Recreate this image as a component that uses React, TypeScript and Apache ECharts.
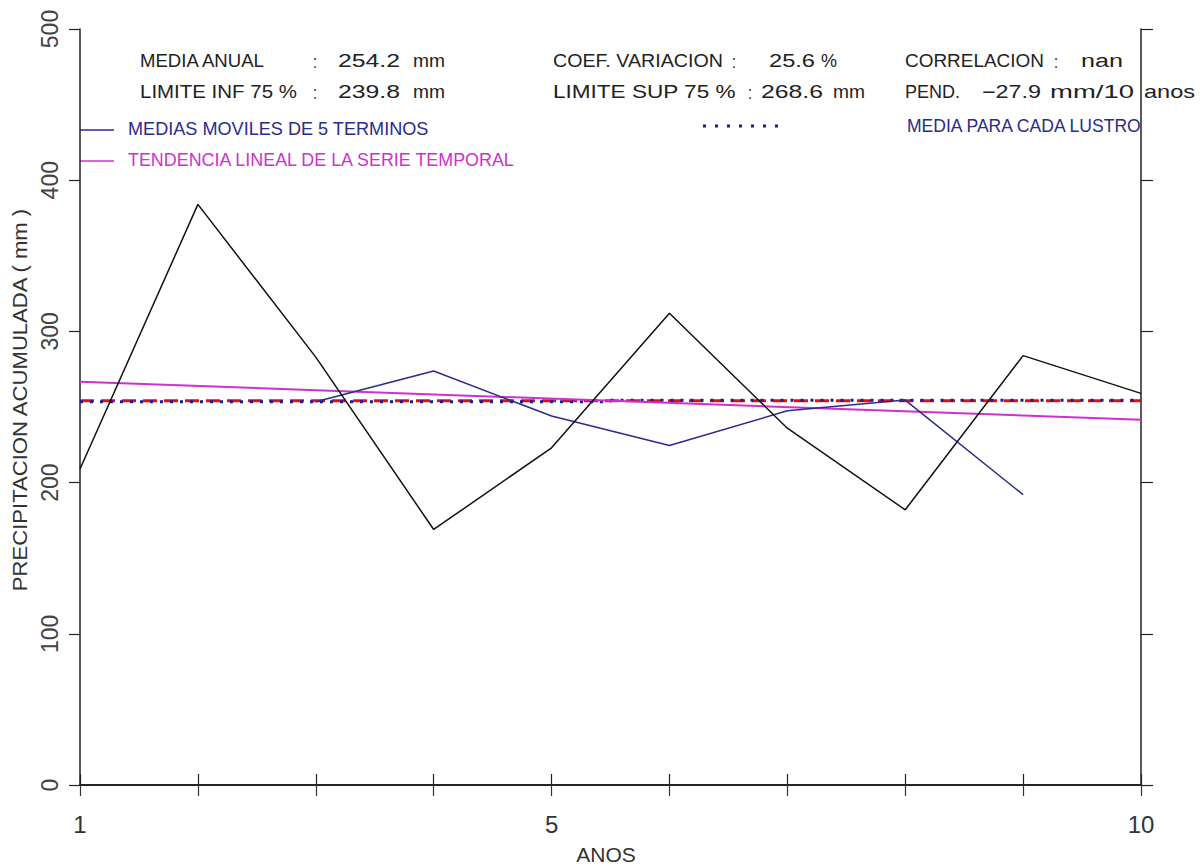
import React, { useEffect, useRef } from "react";
import * as echarts from "echarts";

const years = [1, 2, 3, 4, 5, 6, 7, 8, 9, 10];
const annual = [209, 384, 283, 169, 223, 312, 236, 182, 284, 259];
const movYears = [3, 4, 5, 6, 7, 8, 9];
const movAvg = [253.5, 273.8, 244, 224.5, 247.5, 254.6, 192];
const trendYears = [1, 10];
const trendValues = [266.7, 241.6];
const meanValue = 254.2;
const lustroYears = [[1, 5.5], [5.5, 10]];
const lustroValues = [253.4, 254.4];
const xTickLabels = ["1", "5", "10"];
const yTicks = [0, 100, 200, 300, 400, 500];

const FONT = "'Liberation Sans', Arial, sans-serif";
const NAVY = "#2b2b8c";
const MAGENTA = "#d030d0";

// [text, x start, x end, y]
const statPieces: [string, number, number, number][] = [
  ["MEDIA ANUAL", 140, 266, 61],
  [":", 313, 317, 61],
  ["254.2", 338, 400, 61],
  ["mm", 413, 445, 61],
  ["LIMITE INF 75 %", 140, 297, 92],
  [":", 313, 317, 92],
  ["239.8", 338, 400, 92],
  ["mm", 413, 445, 92],
  ["COEF. VARIACION", 553, 723, 61],
  [":", 732, 736, 61],
  ["25.6", 769, 815, 61],
  ["%", 821, 837, 61],
  ["LIMITE SUP 75 %", 553, 736, 92],
  [":", 748, 752, 92],
  ["268.6", 761, 823, 92],
  ["mm", 833, 865, 92],
  ["CORRELACION", 905, 1044, 61],
  [":", 1054, 1058, 61],
  ["nan", 1081, 1123, 61],
  ["PEND.", 905, 960, 92],
  ["\u221227.9", 982, 1041, 92],
  ["mm/10", 1050, 1134, 92],
  ["anos", 1144, 1195, 92],
];

export default function App() {
  const ref = useRef<HTMLDivElement>(null);
  useEffect(() => {
    if (!ref.current) return;
    const chart = echarts.init(ref.current, undefined, { renderer: "svg" });
    const ctx = document.createElement("canvas").getContext("2d") as CanvasRenderingContext2D;
    const measure = (t: string, size: number) => {
      ctx.font = `${size}px "Liberation Sans"`;
      return ctx.measureText(t).width || 1;
    };
    const stretched = (x1: number, x2: number, y: number, text: string, fill = "#222", size = 18) => ({
      type: "text",
      x: x1,
      y,
      scaleX: Math.max(0.6, Math.min(1.8, (x2 - x1) / measure(text, size))),
      silent: true,
      style: { text, fill, fontSize: size, fontFamily: FONT, align: "left", verticalAlign: "middle" },
    });
    const txt = (x: number, y: number, text: string, fill = "#222", size = 18, align = "left") => ({
      type: "text",
      x,
      y,
      silent: true,
      style: { text, fill, fontSize: size, fontFamily: FONT, align, verticalAlign: "middle" },
    });
    const yName = "PRECIPITACION ACUMULADA ( mm )";
    const option: any = {
      animation: false,
      backgroundColor: "#fff",
      grid: { left: 80, right: 59, top: 29, bottom: 81 },
      xAxis: [
        {
          type: "value",
          min: 1,
          max: 10,
          interval: 1,
          position: "bottom",
          axisLine: { lineStyle: { color: "#333", width: 2 } },
          axisTick: { inside: false, length: 11, lineStyle: { color: "#333", width: 1.2 } },
          splitLine: { show: false },
          axisLabel: {
            showMinLabel: true,
            showMaxLabel: true,
            margin: 27,
            fontSize: 24,
            fontFamily: FONT,
            color: "#333",
            formatter: (v: number) => (xTickLabels.includes(String(v)) ? String(v) : ""),
          },
        },
        {
          type: "value",
          min: 1,
          max: 10,
          interval: 1,
          position: "top",
          axisLine: { lineStyle: { color: "#222", width: 1.5 } },
          axisTick: { inside: false, length: 11, lineStyle: { color: "#222", width: 1.2 } },
          splitLine: { show: false },
          axisLabel: { show: false },
        },
      ],
      yAxis: [
        {
          type: "value",
          min: yTicks[0],
          max: yTicks[yTicks.length - 1],
          interval: 100,
          position: "left",
          axisLine: { show: true, lineStyle: { color: "#222", width: 1.5 } },
          axisTick: { show: true, inside: false, length: 11, lineStyle: { color: "#222", width: 1.2 } },
          splitLine: { show: false },
          axisLabel: {
            rotate: 90,
            margin: 19,
            fontSize: 23,
            fontFamily: FONT,
            color: "#444",
            showMinLabel: true,
            showMaxLabel: true,
          },
        },
        {
          type: "value",
          min: yTicks[0],
          max: yTicks[yTicks.length - 1],
          interval: 100,
          position: "right",
          axisLine: { show: true, lineStyle: { color: "#222", width: 1.5 } },
          axisTick: { show: true, inside: false, length: 12, lineStyle: { color: "#222", width: 1.2 } },
          splitLine: { show: false },
          axisLabel: { show: false },
        },
      ],
      series: [
        {
          name: "mean",
          type: "line",
          symbol: "none",
          data: [[years[0], meanValue], [years[years.length - 1], meanValue]],
          lineStyle: { color: "#e01010", width: 3, type: [14, 7] },
          z: 2,
        },
        ...lustroYears.map((ys, i) => ({
          name: "lustro" + i,
          type: "line",
          symbol: "none",
          data: ys.map((y) => [y, lustroValues[i]]),
          lineStyle: { color: "#1a1a9a", width: 3, type: [3, 7] },
          z: 3,
        })),
        {
          name: "trend",
          type: "line",
          symbol: "none",
          data: trendYears.map((y, i) => [y, trendValues[i]]),
          lineStyle: { color: MAGENTA, width: 2 },
          z: 4,
        },
        {
          name: "movavg",
          type: "line",
          symbol: "none",
          data: movYears.map((y, i) => [y, movAvg[i]]),
          lineStyle: { color: NAVY, width: 1.5 },
          z: 5,
        },
        {
          name: "annual",
          type: "line",
          symbol: "none",
          data: years.map((y, i) => [y, annual[i]]),
          lineStyle: { color: "#111", width: 1.5 },
          z: 6,
        },
      ],
      graphic: [
        ...statPieces.map(([t, x1, x2, y]) => stretched(x1, x2, y, t)),
        {
          type: "line",
          silent: true,
          shape: { x1: 80, y1: 130, x2: 114, y2: 130 },
          style: { stroke: NAVY, lineWidth: 1.5 },
        },
        stretched(128, 429, 129, "MEDIAS MOVILES DE 5 TERMINOS", NAVY),
        {
          type: "line",
          silent: true,
          shape: { x1: 80, y1: 161, x2: 114, y2: 161 },
          style: { stroke: MAGENTA, lineWidth: 1.5 },
        },
        stretched(128, 517, 160, "TENDENCIA LINEAL DE LA SERIE TEMPORAL", MAGENTA),
        {
          type: "line",
          silent: true,
          shape: { x1: 703, y1: 126, x2: 778, y2: 126 },
          style: { stroke: "#1a1a9a", lineWidth: 3, lineDash: [3, 9] },
        },
        stretched(907, 1144, 126, "MEDIA PARA CADA LUSTRO", NAVY),
        {
          type: "text",
          x: 20,
          y: 400,
          rotation: Math.PI / 2,
          scaleX: 385 / measure(yName, 20),
          silent: true,
          style: {
            text: yName,
            fill: "#333",
            fontSize: 20,
            fontFamily: FONT,
            align: "center",
            verticalAlign: "middle",
          },
        },
        txt(606, 854, "ANOS", "#333", 21, "center"),
      ],
    };
    chart.setOption(option);
    return () => chart.dispose();
  }, []);
  return (
    <div
      ref={ref}
      style={{ position: "absolute", left: 0, top: 0, width: 1200, height: 866, background: "#fff" }}
    />
  );
}
